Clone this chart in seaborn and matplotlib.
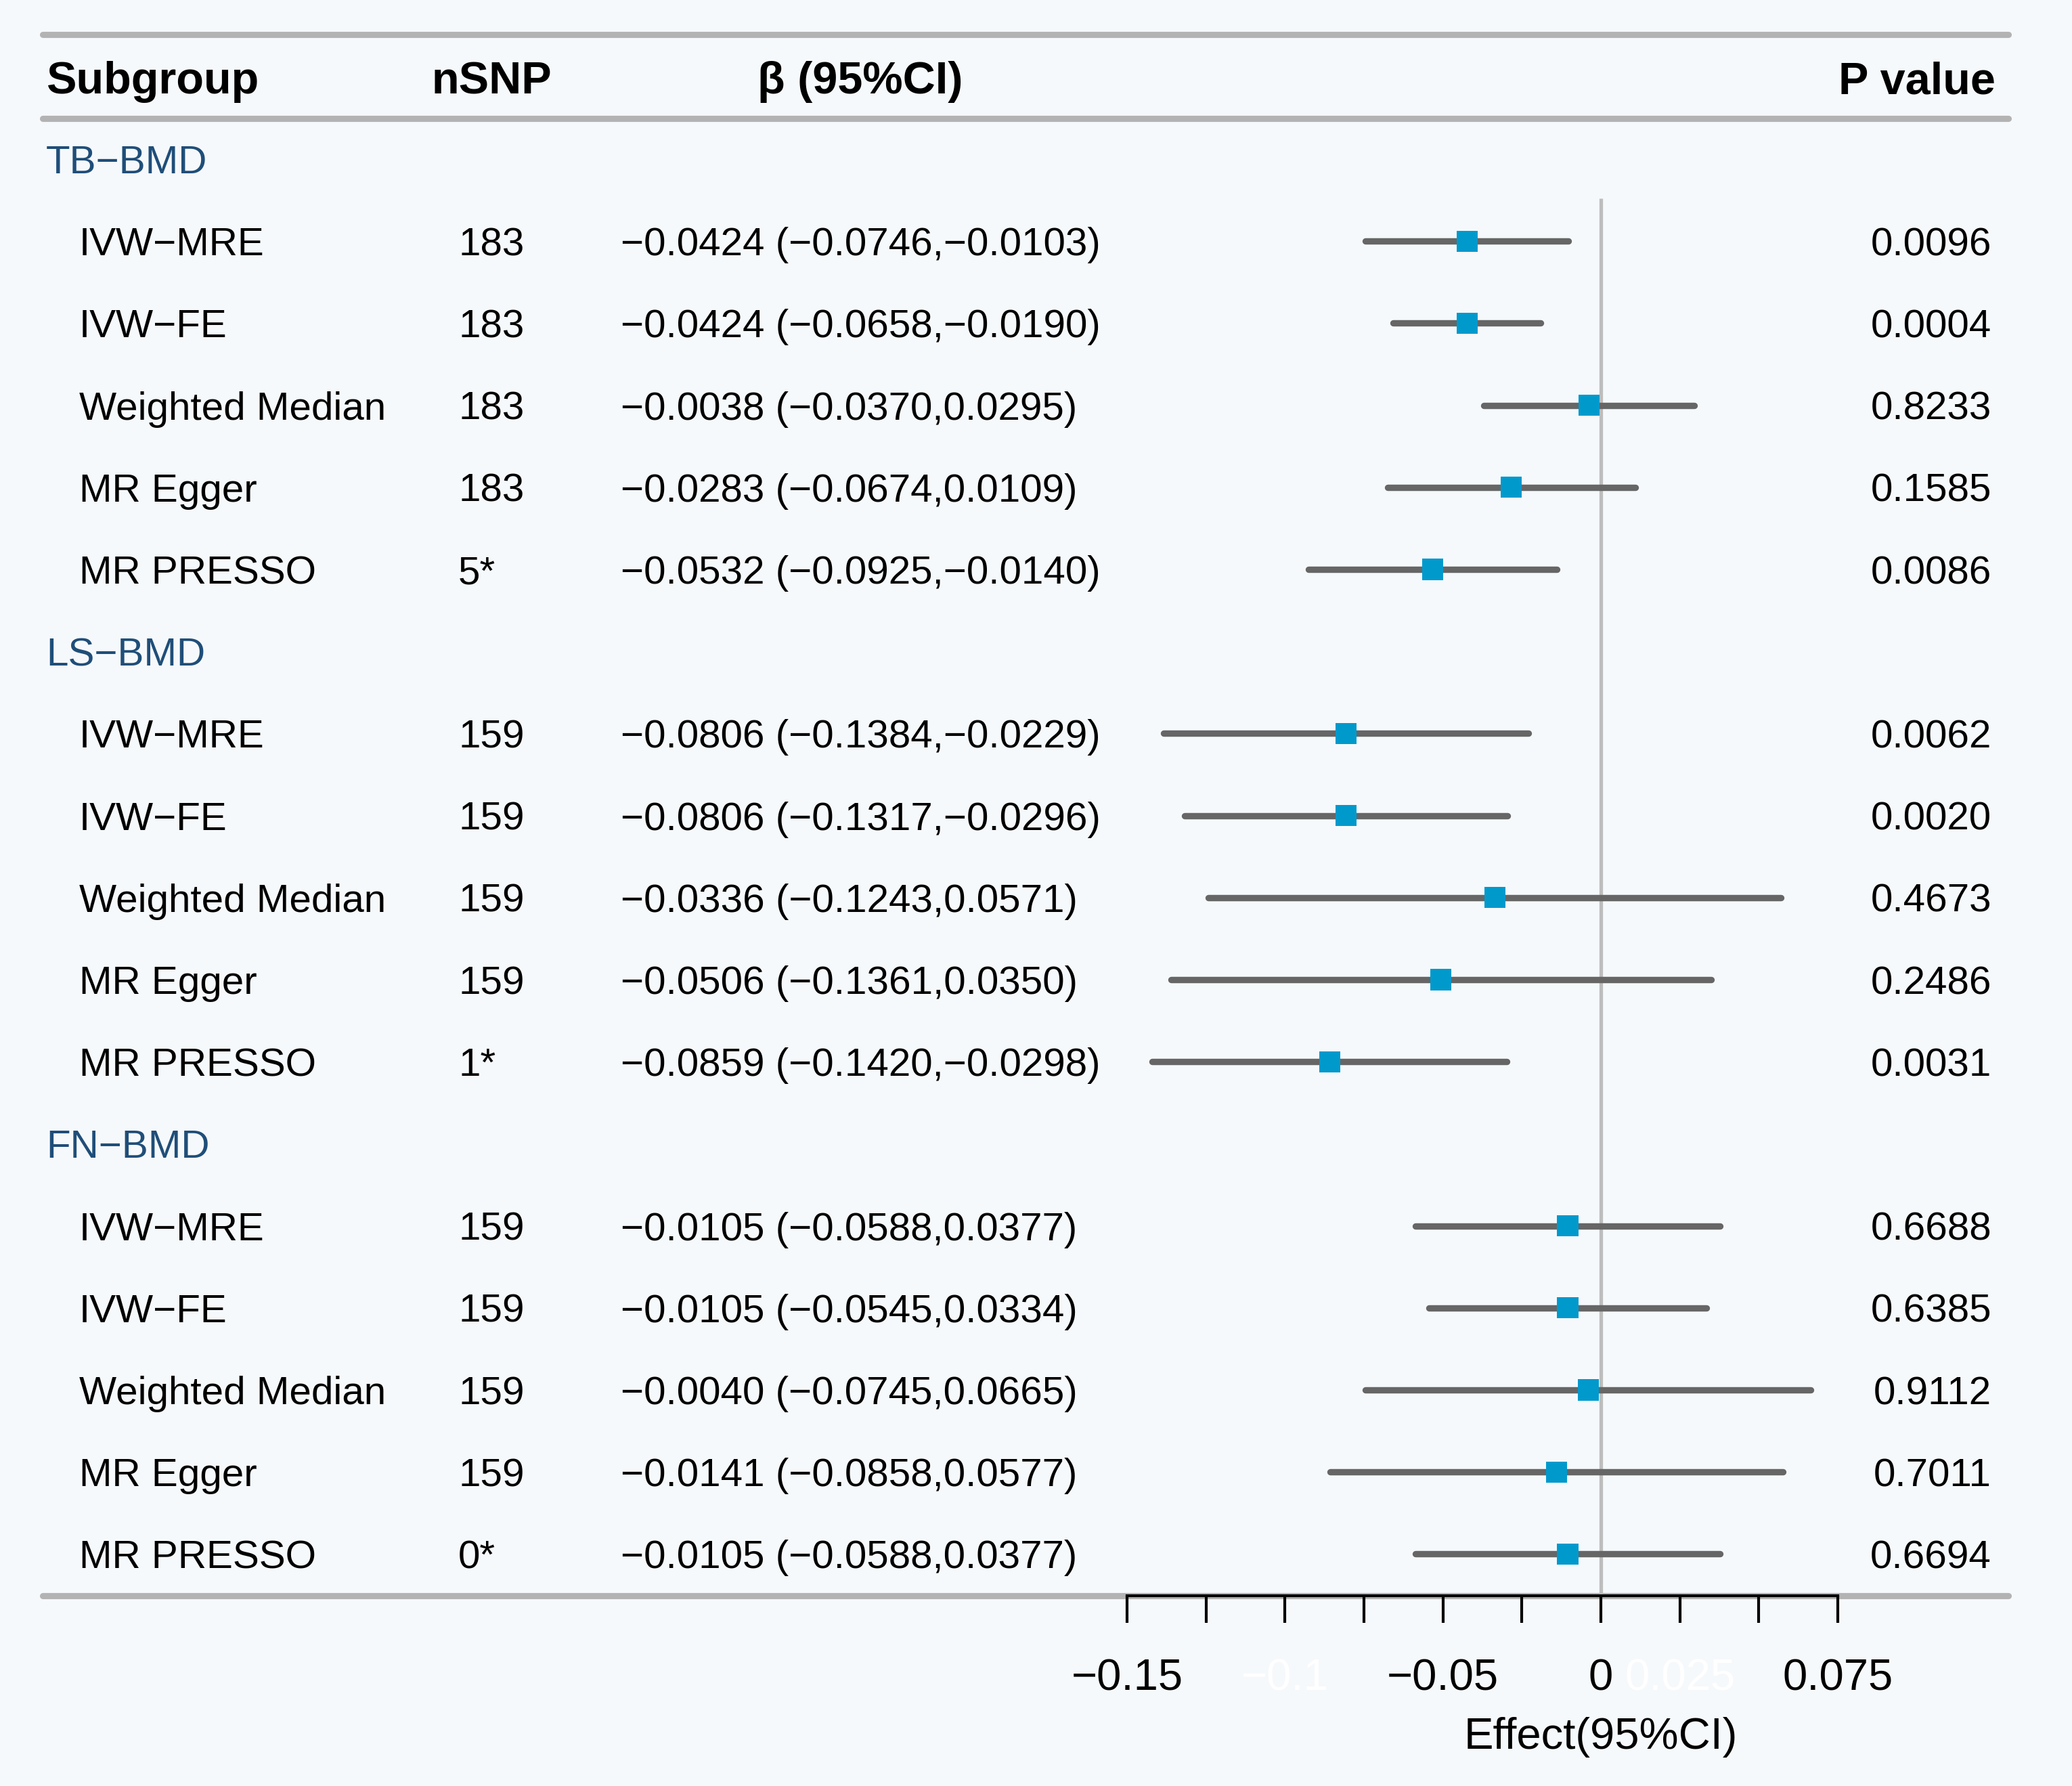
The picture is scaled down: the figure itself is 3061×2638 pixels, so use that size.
import numpy as np
import pandas as pd
import seaborn as sns
import matplotlib.pyplot as plt
import matplotlib.transforms as mtransforms

# ---- data ----
groups = ['TB−BMD', 'LS−BMD', 'FN−BMD']
methods = ['IVW−MRE', 'IVW−FE', 'Weighted Median', 'MR Egger', 'MR PRESSO']
nsnp = ['183', '183', '183', '183', '5*',
        '159', '159', '159', '159', '1*',
        '159', '159', '159', '159', '0*']
beta = [-0.0424, -0.0424, -0.0038, -0.0283, -0.0532,
        -0.0806, -0.0806, -0.0336, -0.0506, -0.0859,
        -0.0105, -0.0105, -0.0040, -0.0141, -0.0105]
lower = [-0.0746, -0.0658, -0.0370, -0.0674, -0.0925,
         -0.1384, -0.1317, -0.1243, -0.1361, -0.1420,
         -0.0588, -0.0545, -0.0745, -0.0858, -0.0588]
upper = [-0.0103, -0.0190, 0.0295, 0.0109, -0.0140,
         -0.0229, -0.0296, 0.0571, 0.0350, -0.0298,
         0.0377, 0.0334, 0.0665, 0.0577, 0.0377]
pval = ['0.0096', '0.0004', '0.8233', '0.1585', '0.0086',
        '0.0062', '0.0020', '0.4673', '0.2486', '0.0031',
        '0.6688', '0.6385', '0.9112', '0.7011', '0.6694']
tick_vals = [-0.15, -0.125, -0.1, -0.075, -0.05, -0.025, 0, 0.025, 0.05, 0.075]
tick_text = ['−0.15', '', '−0.1', '', '−0.05', '', '0', '0.025', '', '0.075']
faded_ticks = ['−0.1', '0.025']

# row layout: group header then 5 methods
rows = []
r = 0
for gi, g in enumerate(groups):
    r += 1  # group row index is r-1
    for mi, m in enumerate(methods):
        k = gi * 5 + mi
        rows.append(dict(group=g, method=m, row=r, nsnp=nsnp[k], beta=beta[k],
                         lo=lower[k], hi=upper[k], p=pval[k]))
        r += 1
df = pd.DataFrame(rows)
group_rows = [0, 6, 12]

def fmt(v):
    return f'{v:.4f}'.replace('-', '−')

df['est'] = [f'{fmt(b)} ({fmt(l)},{fmt(h)})' for b, l, h in zip(df.beta, df.lo, df.hi)]

# ---- style ----
bg = '#F6F9FB'
sns.set_style('white', {'axes.facecolor': bg, 'figure.facecolor': bg})
plt.rcParams['font.family'] = ['Liberation Sans', 'DejaVu Sans']
plt.rcParams['text.color'] = 'black'

W, H, DPI = 3061, 2638, 200
fig = plt.figure(figsize=(W / DPI, H / DPI), dpi=DPI, facecolor=bg)

# forest axes: x from -0.15 (px 1665) to 0.075 (px 2715); y rows
top_px, bot_px = 51, 2357
row0_px, step_px = 235, 121.2
ax = fig.add_axes([1665 / W, 1 - bot_px / H, (2715 - 1665) / W, (bot_px - top_px) / H])
ax.set_facecolor('none')
ax.set_xlim(-0.15, 0.075)
ax.set_ylim((bot_px - row0_px) / step_px, (top_px - row0_px) / step_px)

def fx(px):
    return px / W

trans = mtransforms.blended_transform_factory(fig.transFigure, ax.transData)
dy = 0.05  # small downward nudge so text sits on the row line like the original

# horizontal rules
hdr_line_r = (175 - row0_px) / step_px
for yr in [ax.get_ylim()[1], hdr_line_r, ax.get_ylim()[0]]:
    ax.plot([fx(63), fx(2967)], [yr, yr], transform=trans, color='#B3B3B3',
            lw=3.3, solid_capstyle='round', clip_on=False, zorder=0.5)

# reference line at zero
ax.vlines(0, (293 - row0_px) / step_px, ax.get_ylim()[0], color='#BDBDBD', lw=1.9, zorder=1)

# CIs and point estimates
ax.hlines(df['row'], df['lo'], df['hi'], color='#666666', lw=3.4, capstyle='round',
          zorder=2, clip_on=False)
sns.scatterplot(data=df, x='beta', y='row', marker='s', s=11.2 ** 2, color='#0099CC',
                edgecolor='none', linewidth=0, zorder=3, ax=ax, clip_on=False, legend=False)

# header
hy = (115 - row0_px) / step_px + dy
hkw = dict(transform=trans, fontsize=24, fontweight='bold', va='center', color='black')
ax.text(fx(68), hy, 'Subgroup', ha='left', **hkw)
ax.text(fx(726), hy, 'nSNP', ha='center', **hkw)
ax.text(fx(1271), hy, 'β (95%CI)', ha='center', **hkw)
ax.text(fx(2948), hy, 'P value', ha='right', **hkw)

# group labels
for g, gr in zip(groups, group_rows):
    ax.text(fx(68), gr + dy, g, transform=trans, fontsize=21, color='#1F4E79',
            ha='left', va='center')

# row text
rkw = dict(transform=trans, fontsize=21, va='center', color='black')
for _, d in df.iterrows():
    y = d['row'] + dy
    ax.text(fx(117), y, d['method'], ha='left', **rkw)
    ax.text(fx(677), y, d['nsnp'], ha='left', **rkw)
    ax.text(fx(917), y, d['est'], ha='left', **rkw)
    ax.text(fx(2942), y, d['p'], ha='right', **rkw)

# axis
for s in ['left', 'top', 'right']:
    ax.spines[s].set_visible(False)
ax.spines['bottom'].set_color('black')
ax.spines['bottom'].set_linewidth(1.5)
ax.spines['bottom'].set_zorder(2.5)
ax.set_yticks([])
ax.set_ylabel('')
ax.set_xticks(tick_vals)
ax.set_xticklabels(tick_text, fontsize=23.5)
for lab in ax.get_xticklabels():
    if lab.get_text() in faded_ticks:
        lab.set_color('white')
    else:
        lab.set_color('black')
ax.tick_params(axis='x', bottom=True, direction='out', length=14.4, width=1.5,
               color='black', pad=19)
ax.set_xlabel('Effect(95%CI)', fontsize=23.5, color='black')
ax.xaxis.set_label_coords((0 - (-0.15)) / 0.225, -(2566 - bot_px) / (bot_px - top_px))
ax.xaxis.label.set_va('center')

fig.savefig('out.png', dpi=DPI, facecolor=bg)
